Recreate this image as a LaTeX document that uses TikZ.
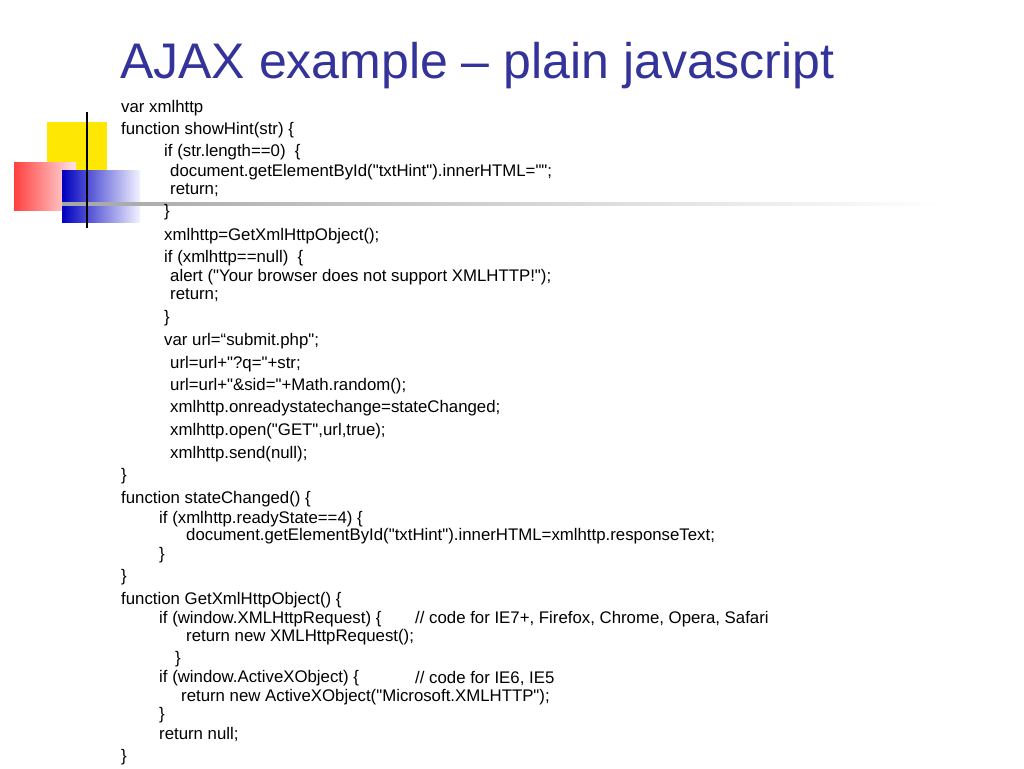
\documentclass[tikz,border=0pt]{standalone}
\usepackage{fontspec}
\setmainfont[Ligatures=TeXOff]{Liberation Sans}
\begin{document}
\begin{tikzpicture}[x=1pt,y=-1pt,
  code/.style={anchor=west,inner sep=0pt,font=\fontsize{16.8}{18}\selectfont,text=black}]
\useasboundingbox (0,0) rectangle (1024,768);
\fill[white] (0,0) rectangle (1024,768);
% decoration
\fill[yellow!90!orange] (47,122) rectangle (107,170);
\shade[left color=red!75, right color=red!10] (14,162) rectangle (76,210);
\shade[left color=blue!75!black, right color=blue!5] (62,170) rectangle (140,222);
\shade[left color=gray!70, right color=white] (62,202) rectangle (945,205);
\draw[line width=2.5pt] (87,112) -- (87,228);
% title
\node[anchor=base west,inner sep=0pt,text={rgb,255:red,51;green,51;blue,153},font=\fontsize{50}{52}\selectfont] (title) at (120,78) {AJAX example – plain javascript};
% code
\node[code] (a1) at (121,108) {var xmlhttp};
\node[code] (a2) at (121,130) {function showHint(str) \{};
\node[code] (a3) at (164,152) {if (str.length==0)\ \ \{};
\node[code] (a4) at (170,172) {document.getElementById("txtHint").innerHTML="";};
\node[code] (a5) at (170,190) {return;};
\node[code] (a6) at (164,212) {\}};
\node[code] (a7) at (164,236) {xmlhttp=GetXmlHttpObject();};
\node[code] (a8) at (164,258) {if (xmlhttp==null)\ \ \{};
\node[code] (a9) at (170,277) {alert ("Your browser does not support XMLHTTP!");};
\node[code] (a10) at (170,295) {return;};
\node[code] (a11) at (164,318) {\}};
\node[code] (a12) at (164,341) {var url=“submit.php";};
\node[code] (a13) at (170,364) {url=url+"?q="+str;};
\node[code] (a14) at (170,386) {url=url+"\&sid="+Math.random();};
\node[code] (a15) at (170,408) {xmlhttp.onreadystatechange=stateChanged;};
\node[code] (a16) at (170,431) {xmlhttp.open("GET",url,true);};
\node[code] (a17) at (170,454) {xmlhttp.send(null);};
\node[code] (a18) at (121,476) {\}};
\node[code] (b1) at (121,499) {function stateChanged() \{};
\node[code] (b2) at (159,519) {if (xmlhttp.readyState==4) \{};
\node[code] (b3) at (186,536) {document.getElementById("txtHint").innerHTML=xmlhttp.responseText;};
\node[code] (b4) at (159,555) {\}};
\node[code] (b5) at (121,577) {\}};
\node[code] (c1) at (121,600) {function GetXmlHttpObject() \{};
\node[code] (c2) at (159,619) {if (window.XMLHttpRequest) \{};
\node[code] (c2b) at (415,619) {// code for IE7+, Firefox, Chrome, Opera, Safari};
\node[code] (c3) at (186,637) {return new XMLHttpRequest();};
\node[code] (c4) at (175,659) {\}};
\node[code] (c5) at (159,678) {if (window.ActiveXObject) \{};
\node[code] (c5b) at (415,678) {// code for IE6, IE5};
\node[code] (c6) at (181,697) {return new ActiveXObject("Microsoft.XMLHTTP");};
\node[code] (c7) at (159,715) {\}};
\node[code] (c8) at (159,734) {return null;};
\node[code] (c9) at (121,757) {\}};
\end{tikzpicture}
\end{document}
